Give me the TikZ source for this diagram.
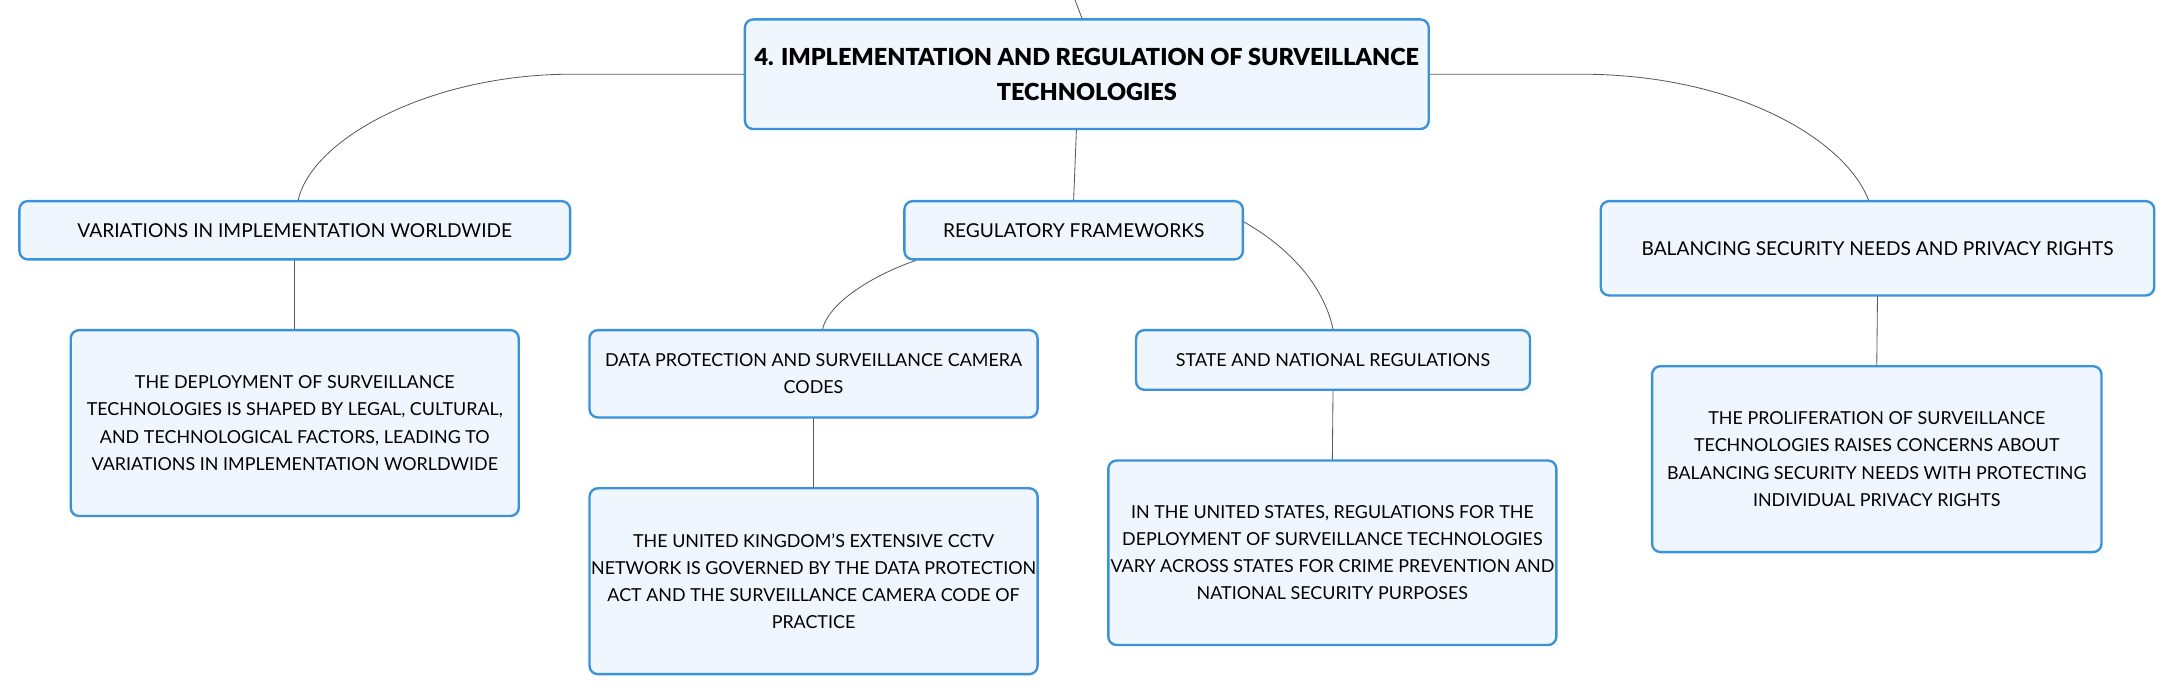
\documentclass[tikz,border=0pt]{standalone}
\usepackage{fontspec}
\setmainfont{Lato}
\newfontfamily\titlefont{Lato Black}
\usepackage{tikz}
\usetikzlibrary{positioning}
\definecolor{boxblue}{HTML}{3A92DB}
\definecolor{boxfill}{HTML}{EFF6FD}
\definecolor{linkgray}{HTML}{5A5A5A}

\begin{document}
\begin{tikzpicture}[x=1pt,y=-1pt,line cap=round,line join=round,
  topic/.style={draw=boxblue,fill=boxfill,line width=1.7pt,rounded corners=6pt,
    inner sep=0pt,align=center,font=\fontsize{12.9}{19.6}\selectfont},
  headtopic/.style={topic,font=\fontsize{13.8}{19.6}\selectfont},
  link/.style={draw=linkgray,line width=0.6pt}]
\useasboundingbox (0,0) rectangle (1568,502);
\node[topic,minimum width=493pt,minimum height=79pt,font=\titlefont\fontsize{16.9}{25}\selectfont] (root) at (783.5,53.5)
  {4. IMPLEMENTATION AND REGULATION OF SURVEILLANCE\\TECHNOLOGIES};
\node[headtopic,minimum width=397pt,minimum height=42pt] (variations) at (212.5,166) {VARIATIONS IN IMPLEMENTATION WORLDWIDE};
\node[headtopic,minimum width=244pt,minimum height=42pt] (regulatory) at (774,166) {REGULATORY FRAMEWORKS};
\node[headtopic,minimum width=399pt,minimum height=68pt] (balancing) at (1353.5,179) {BALANCING SECURITY NEEDS AND PRIVACY RIGHTS};
\node[topic,minimum width=323pt,minimum height=134pt] (deployment) at (212.5,305)
  {THE DEPLOYMENT OF SURVEILLANCE\\TECHNOLOGIES IS SHAPED BY LEGAL, CULTURAL,\\AND TECHNOLOGICAL FACTORS, LEADING TO\\VARIATIONS IN IMPLEMENTATION WORLDWIDE};
\node[topic,minimum width=323pt,minimum height=63pt] (dataprot) at (586.5,269.5) {DATA PROTECTION AND SURVEILLANCE CAMERA\\CODES};
\node[topic,minimum width=284pt,minimum height=43pt] (statenat) at (961,259.5) {STATE AND NATIONAL REGULATIONS};
\node[topic,minimum width=323pt,minimum height=134pt] (ukcctv) at (586.5,419)
  {THE UNITED KINGDOM'S EXTENSIVE CCTV\\NETWORK IS GOVERNED BY THE DATA PROTECTION\\ACT AND THE SURVEILLANCE CAMERA CODE OF\\PRACTICE};
\node[topic,minimum width=323pt,minimum height=133pt] (usstates) at (960.5,398.5)
  {IN THE UNITED STATES, REGULATIONS FOR THE\\DEPLOYMENT OF SURVEILLANCE TECHNOLOGIES\\VARY ACROSS STATES FOR CRIME PREVENTION AND\\NATIONAL SECURITY PURPOSES};
\node[topic,minimum width=324pt,minimum height=134pt] (privacy) at (1353,331)
  {THE PROLIFERATION OF SURVEILLANCE\\TECHNOLOGIES RAISES CONCERNS ABOUT\\BALANCING SECURITY NEEDS WITH PROTECTING\\INDIVIDUAL PRIVACY RIGHTS};
% links
\coordinate (up) at (775,0);
\coordinate (lbend) at (412,53.5);
\coordinate (rbend) at (1140,53.5);
\draw[link] (up) -- ([xshift=-3.5pt]root.north);
\draw[link] (root.west) -- (lbend) .. controls (310,53.5) and (225,100) .. ([xshift=2.5pt]variations.north);
\draw[link] (root.east) -- (rbend) .. controls (1250,53.5) and (1330,100) .. ([xshift=-6.5pt]balancing.north);
\draw[link] ([xshift=-7.5pt]root.south) -- (regulatory.north);
\draw[link] ([xshift=-114pt]regulatory.south) .. controls (625,200) and (597,220) .. ([xshift=6.5pt]dataprot.north);
\draw[link] ([yshift=6pt]regulatory.east) .. controls (935,182) and (955,210) .. (statenat.north);
\draw[link] (variations.south) -- (deployment.north);
\draw[link] (dataprot.south) -- (ukcctv.north);
\draw[link] (statenat.south) -- (usstates.north);
\draw[link] (balancing.south) -- (privacy.north);
\end{tikzpicture}
\end{document}
